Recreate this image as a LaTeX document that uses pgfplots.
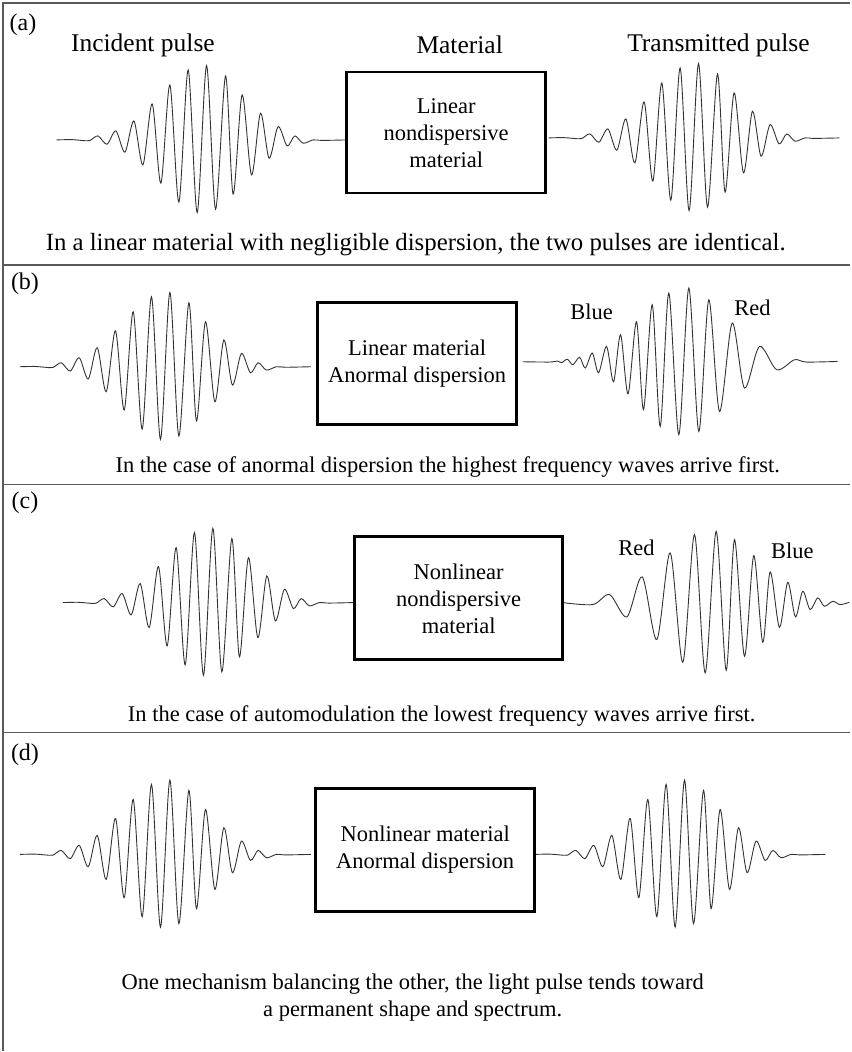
\documentclass[border=0pt]{standalone}
\usepackage{pgfplots}
\usepackage{pgfplotstable}
\pgfplotsset{compat=1.18}
\usepackage{fontspec}
\setmainfont{Liberation Serif}

% symmetric pulse: offset from the highest crest (dx) and height above the baseline (dy), in px
\pgfplotstableread{
dx dy
-150 0
-135 0.3
-125 -0.5
-117 -0.7
-108.7 4
-99.7 -4.3
-90.7 9
-81.7 -12.3
-72.7 19
-63.7 -25
-54.4 36
-45.7 -43.3
-36.7 55
-27.7 -62.3
-18.4 70
-9.4 -72.7
0 74.3
9 -69.3
19 64
26.6 -54.3
35.6 45
45 -35
54 26.7
62.6 -18.3
71.6 13.3
80.6 -6
88.3 4
96.6 -3.3
106.6 0
116 -0.5
141 0
}\pulse

% (b) transmitted pulse, anomalous dispersion (px, y from top)
\pgfplotstableread{
x y
523 362
550 362.3
558 361.3
562 363
567.7 359.5
573.3 365
580 357.5
585.7 368.3
592.7 353.3
599 373
607 346.7
614 382
621 335
628.5 394
637 322
644 410
652.7 305
660.7 426.7
669.3 293.3
679.3 435
689.3 288.3
699.3 431.7
709.3 300
720 411.7
732.7 323.3
745 388.3
760 346.7
777.3 370
795 360
806.7 362.3
838.3 361.7
}\pulseb

% (c) transmitted pulse, self modulation
\pgfplotstableread{
x y
563 603
593.3 605
610 595
627.3 617.3
642.7 577.3
657.3 640
670.7 553.3
683.3 662.7
695 535
705.7 673.3
716.7 531.7
726.7 670.7
735 540
745 656.7
754.3 556
763.3 642.7
770.7 572.3
780 627.7
788.3 582.7
796 617.3
803.3 591.7
810.7 610
818.3 598.3
825 606.7
833.3 601.7
840.7 605
850 602.7
}\pulsec

\begin{document}
\begin{tikzpicture}[
    wave/.style={black!80, line width=0.9pt, smooth, no markers},
    frame/.style={black!65, line width=1.5pt},
    box/.style={draw=black, fill=white, line width=2.6pt},
    lab/.style={font=\fontsize{25.5}{30}\selectfont, inner sep=0pt},
    txt/.style={font=\fontsize{22.5}{27}\selectfont, inner sep=0pt, align=center},
]
\begin{axis}[
    width=851pt, height=1052pt,
    scale only axis,
    xmin=0, xmax=851, ymin=0, ymax=1052,
    y dir=reverse,
    axis lines=none,
    clip=false,
]
\path (axis cs:0,0) (axis cs:851,1052);

% frame
\draw[frame] (axis cs:851,3) -- (axis cs:3,3) -- (axis cs:3,1052);
\draw[frame] (axis cs:3,265) -- (axis cs:851,265);
\draw[frame] (axis cs:3,485) -- (axis cs:851,485);
\draw[frame] (axis cs:3,733) -- (axis cs:851,733);

% pulses
\addplot[wave] table[x expr=\thisrow{dx}+206.7, y expr=140-\thisrow{dy}] {\pulse};
\addplot[wave] table[x expr=\thisrow{dx}+699, y expr=138-\thisrow{dy}] {\pulse};
\addplot[wave] table[x expr=\thisrow{dx}+170, y expr=367-\thisrow{dy}] {\pulse};
\addplot[wave] table[x=x, y=y] {\pulseb};
\addplot[wave] table[x expr=\thisrow{dx}+213, y expr=603-\thisrow{dy}] {\pulse};
\addplot[wave] table[x=x, y=y] {\pulsec};
\addplot[wave] table[x expr=\thisrow{dx}+170, y expr=855-\thisrow{dy}] {\pulse};
\addplot[wave] table[x expr=\thisrow{dx}+685, y expr=855-\thisrow{dy}] {\pulse};

% (a)
\node[lab, font=\fontsize{24}{28}\selectfont] at (axis cs:23,25) {(a)};
\node[lab] at (axis cs:143,45) {Incident pulse};
\node[lab] at (axis cs:460,45) {Material};
\node[lab] at (axis cs:719,45) {Transmitted pulse};
\draw[box] (axis cs:347,72) rectangle (axis cs:546,193);
\node[txt] at (axis cs:446.5,133) {Linear\\nondispersive\\material};
\node[txt, font=\fontsize{24.8}{29}\selectfont] at (axis cs:416,245) {In a linear material with negligible dispersion, the two pulses are identical.};

% (b)
\node[lab, font=\fontsize{24}{28}\selectfont] at (axis cs:25,284) {(b)};
\draw[box] (axis cs:318,303) rectangle (axis cs:517,425);
\node[txt] at (axis cs:417.5,364) {Linear material\\Anormal dispersion};
\node[txt] at (axis cs:592,312) {Blue};
\node[txt] at (axis cs:753,308) {Red};
\node[txt] at (axis cs:448,467) {In the case of anormal dispersion the highest frequency waves arrive first.};

% (c)
\node[lab, font=\fontsize{24}{28}\selectfont] at (axis cs:25,503) {(c)};
\draw[box] (axis cs:355,537) rectangle (axis cs:563,660);
\node[txt] at (axis cs:459,599) {Nonlinear\\nondispersive\\material};
\node[txt] at (axis cs:637,548) {Red};
\node[txt] at (axis cs:793,551) {Blue};
\node[txt] at (axis cs:442,717) {In the case of automodulation the lowest frequency waves arrive first.};

% (d)
\node[lab, font=\fontsize{24}{28}\selectfont] at (axis cs:25,755) {(d)};
\draw[box] (axis cs:316,789) rectangle (axis cs:535,912);
\node[txt] at (axis cs:425.5,850.5) {Nonlinear material\\Anormal dispersion};
\node[txt] at (axis cs:413,998.5) {One mechanism balancing the other, the light pulse tends toward\\a permanent shape and spectrum.};
\end{axis}
\end{tikzpicture}
\end{document}
